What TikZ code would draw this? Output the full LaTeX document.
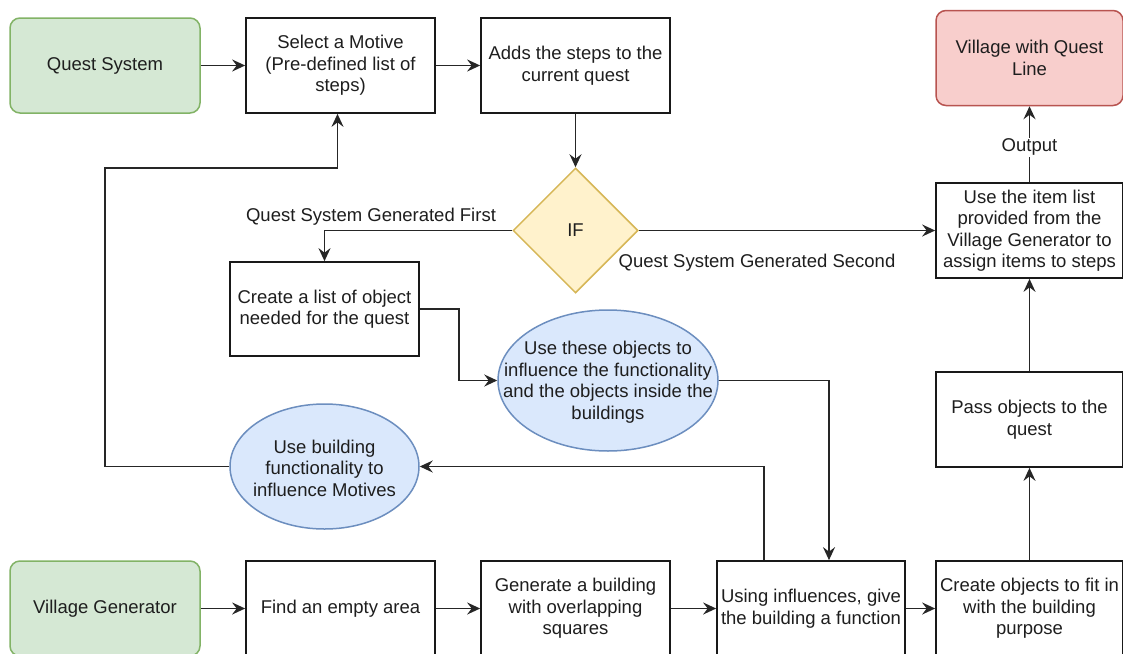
\documentclass[tikz,border=0pt]{standalone}
\usepackage{fontspec}
\setmainfont{Liberation Sans}
\usetikzlibrary{shapes.geometric,arrows.meta}
\definecolor{gfill}{HTML}{D5E8D4}\definecolor{gline}{HTML}{82B366}
\definecolor{rfill}{HTML}{F8CECC}\definecolor{rline}{HTML}{B85450}
\definecolor{yfill}{HTML}{FFF2CC}\definecolor{yline}{HTML}{D6B656}
\definecolor{bfill}{HTML}{DAE8FC}\definecolor{bline}{HTML}{6C8EBF}
\definecolor{txt}{HTML}{1E1E1E}
\tikzset{
  every node/.style={font=\fontsize{18.5}{21.5}\selectfont, text=txt, align=center, inner sep=0pt},
  box/.style={draw=black!90, line width=1.7pt, fill=white, minimum width=189pt, minimum height=95pt},
  rbox/.style={box, minimum width=187pt},
  term/.style={line width=1.5pt, rounded corners=10pt, minimum width=190pt, minimum height=95pt},
  startbox/.style={term, draw=gline, fill=gfill},
  endbox/.style={term, draw=rline, fill=rfill, minimum width=187pt},
  decision/.style={diamond, draw=yline, fill=yfill, line width=1.5pt, minimum width=125pt, minimum height=125pt},
  blob/.style={ellipse, draw=bline, fill=bfill, line width=1.5pt},
  arr/.style={draw=black!85, line width=1.6pt, -{Stealth[length=13pt,width=12pt,inset=4.5pt]}},
  lbl/.style={fill=white, inner sep=1pt}
}
\begin{document}
\begin{tikzpicture}[x=1pt,y=-1pt]
\useasboundingbox (0,0) rectangle (1123,653);
\fill[white] (0,0) rectangle (1123,653);
\clip (0,0) rectangle (1123,653);

% top row
\node[startbox] (qs) at (105,65.5) {Quest System};
\node[box] (motive) at (340.5,65.5) {Select a Motive\\(Pre-defined list of\\steps)};
\node[box] (adds) at (575.5,65.5) {Adds the steps to the\\current quest};
\node[endbox] (vql) at (1029.5,58) {Village with Quest\\Line};

% decision
\node[decision] (ifd) at (575.5,230.5) {IF};
\node[rbox] (items) at (1029.5,230.5) {Use the item list\\provided from the\\Village Generator to\\assign items to steps};

% middle
\node[box, minimum height=94pt] (objlist) at (324.5,309) {Create a list of object\\needed for the quest};
\node[blob, minimum width=220pt, minimum height=141pt] (ell1) at (608,380.5) {};
\node (ell1t) at (608,382) {Use these objects to\\influence the functionality\\and the objects inside the\\buildings};
\node[blob, minimum width=189pt, minimum height=125pt] (ell2) at (324.5,466.5) {};
\node (ell2t) at (324.5,468) {Use building\\functionality to\\influence Motives};
\node[rbox] (pass) at (1029.5,419.5) {Pass objects to the\\quest};

% bottom row
\node[startbox] (vg) at (105,608.5) {Village Generator};
\node[box] (find) at (340.5,608.5) {Find an empty area};
\node[box] (gen) at (575.5,608.5) {Generate a building\\with overlapping\\squares};
\node[box, minimum width=188pt] (using) at (811,608.5) {Using influences, give\\the building a function};
\node[rbox] (create) at (1029.5,608.5) {Create objects to fit in\\with the building\\purpose};

% helper coordinates
\coordinate (lp) at (105,168);

% connectors
\draw[arr] (qs) -- (motive);
\draw[arr] (motive) -- (adds);
\draw[arr] (adds) -- (ifd);
\draw[arr] (ifd.west) -| (objlist.north);
\node (first) at (371,217) {Quest System Generated First};
\draw[arr] (ifd.east) -- (items.west);
\node (second) at (757,263) {Quest System Generated Second};
\draw[arr] (items) -- node[lbl, pos=0.46] (outl) {Output} (vql);
\draw[arr] (pass) -- (items);
\draw[arr] (create) -- (pass);
\draw[arr] (objlist.east) -- ++(39,0) |- (ell1.west);
\draw[arr] (ell1.east) -| ([xshift=18pt]using.north);
\draw[arr] ([xshift=-47pt]using.north) |- (ell2.east);
\draw[arr] (ell2.west) -| (lp) -| ([xshift=-3pt]motive.south);
\draw[arr] (vg) -- (find);
\draw[arr] (find) -- (gen);
\draw[arr] (gen) -- (using);
\draw[arr] (using) -- (create);
\end{tikzpicture}
\end{document}
